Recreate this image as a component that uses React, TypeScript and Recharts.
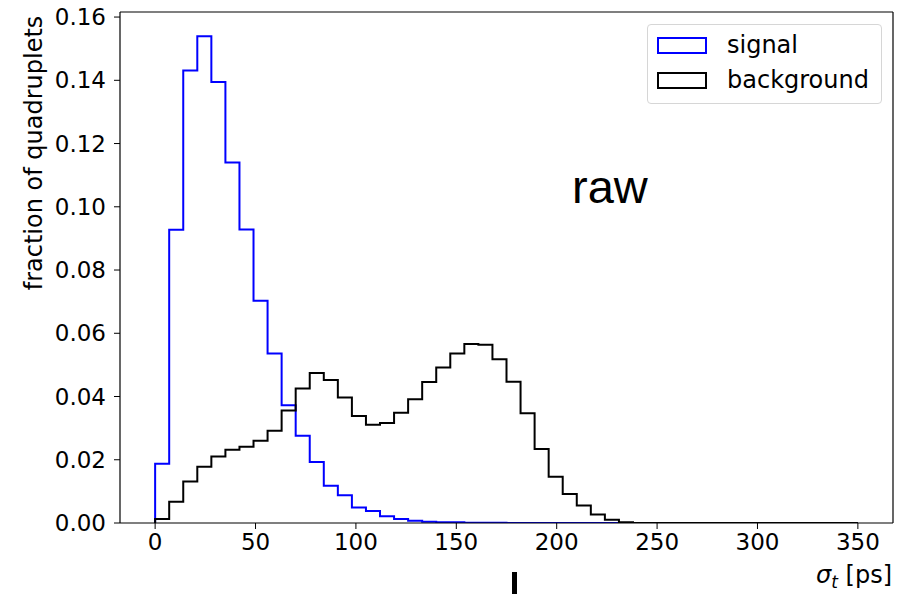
import React from 'react';
import {
  LineChart,
  Line,
  XAxis,
  YAxis,
  ReferenceLine,
  Legend,
} from 'recharts';

// histogram bins: 50 bins of 7 ps from 0 to 350
const BIN_WIDTH = 7;

const signalFractions = [
  0.0187, 0.0927, 0.1431, 0.1539, 0.1395, 0.114, 0.0928, 0.0703, 0.0536, 0.0372,
  0.0276, 0.0193, 0.0118, 0.0088, 0.0049, 0.0038, 0.0021, 0.0013, 0.0007, 0.0004,
  0.0002, 0.0002, 0.0001, 0.0001, 0.0001, 0, 0, 0, 0, 0,
  0, 0, 0, 0, 0, 0, 0, 0, 0, 0,
  0, 0, 0, 0, 0, 0, 0, 0, 0, 0,
];

const backgroundFractions = [
  0.0013, 0.0067, 0.0131, 0.0178, 0.021, 0.0232, 0.0241, 0.026, 0.0292, 0.0356,
  0.0425, 0.0474, 0.0452, 0.0397, 0.0338, 0.0311, 0.0316, 0.0349, 0.0391, 0.0446,
  0.0492, 0.0536, 0.0566, 0.0564, 0.0518, 0.0447, 0.0347, 0.0234, 0.0146, 0.0092,
  0.0055, 0.0027, 0.001, 0.0002, 0, 0, 0, 0, 0, 0,
  0, 0, 0, 0, 0, 0, 0, 0, 0, 0,
];

const xTicks = [0, 50, 100, 150, 200, 250, 300, 350];
const yTicks = [0, 0.02, 0.04, 0.06, 0.08, 0.1, 0.12, 0.14, 0.16];

const X_DOMAIN: [number, number] = [-17.5, 367.5];
const Y_DOMAIN: [number, number] = [0, 0.1616];

const FONT = '"DejaVu Sans", sans-serif';

// turn bin heights into step points (closed at both ends, like histtype='step')
function toSteps(values: number[]) {
  const last = values.length * BIN_WIDTH;
  return [
    { x: 0, y: 0 },
    ...values.map((v, i) => ({ x: i * BIN_WIDTH, y: v })),
    { x: last, y: values[values.length - 1] },
    { x: last, y: 0 },
  ];
}

const series = [
  { name: 'signal', color: '#0000ff', data: toSteps(signalFractions) },
  { name: 'background', color: '#000000', data: toSteps(backgroundFractions) },
];

const LegendBox = () => (
  <div
    style={{
      position: 'absolute',
      left: 647,
      top: 24,
      width: 235,
      height: 80,
      boxSizing: 'border-box',
      border: '1px solid #d6d6d6',
      borderRadius: 4,
      background: 'rgba(255,255,255,0.8)',
      fontFamily: FONT,
      fontSize: 24,
      color: '#000',
    }}
  >
    {series.map((s, i) => (
      <div
        key={s.name}
        style={{ position: 'absolute', left: 9, top: 12 + i * 35, display: 'flex', alignItems: 'center' }}
      >
        <span
          style={{
            display: 'inline-block',
            width: 50,
            height: 17,
            boxSizing: 'border-box',
            border: `2px solid ${s.color}`,
          }}
        />
        <span style={{ marginLeft: 20, lineHeight: '17px' }}>{s.name}</span>
      </div>
    ))}
  </div>
);

export default function App() {
  return (
    <div style={{ position: 'absolute', left: 0, top: 0, width: 897, height: 594, background: '#fff' }}>
      <LineChart width={897} height={594} margin={{ top: 12, right: 4, left: 0, bottom: 0 }}>
        <XAxis
          type="number"
          dataKey="x"
          domain={X_DOMAIN}
          ticks={xTicks}
          allowDataOverflow
          height={71}
          tickSize={6}
          tickMargin={5}
          axisLine={{ stroke: '#000', strokeWidth: 1.2 }}
          tickLine={{ stroke: '#000' }}
          tick={{ fill: '#000', fontSize: 23, fontFamily: FONT }}
        />
        <YAxis
          type="number"
          dataKey="y"
          domain={Y_DOMAIN}
          ticks={yTicks}
          allowDataOverflow
          width={120}
          tickSize={6}
          tickMargin={8}
          tickFormatter={(v: number) => v.toFixed(2)}
          axisLine={{ stroke: '#000', strokeWidth: 1.2 }}
          tickLine={{ stroke: '#000' }}
          tick={{ fill: '#000', fontSize: 23, fontFamily: FONT }}
        />
        {/* top and right spines */}
        <ReferenceLine y={Y_DOMAIN[1]} stroke="#000" strokeWidth={1.2} />
        <ReferenceLine x={X_DOMAIN[1]} stroke="#000" strokeWidth={1.2} />
        {series.map((s) => (
          <Line
            key={s.name}
            data={s.data}
            dataKey="y"
            name={s.name}
            type="stepAfter"
            stroke={s.color}
            strokeWidth={2}
            dot={false}
            activeDot={false}
            isAnimationActive={false}
          />
        ))}
        <Legend content={() => null} />
      </LineChart>
      <LegendBox />
      <svg
        width={897}
        height={594}
        style={{ position: 'absolute', left: 0, top: 0, pointerEvents: 'none' }}
      >
        <text
          transform="translate(42, 153) rotate(-90)"
          textAnchor="middle"
          fontFamily={FONT}
          fontSize={24}
          fill="#000"
        >
          fraction of quadruplets
        </text>
        <text x={892} y={583} textAnchor="end" fontFamily={FONT} fontSize={24} fill="#000">
          <tspan fontStyle="italic">σ</tspan>
          <tspan fontStyle="italic" fontSize={17} dy={5}>t</tspan>
          <tspan dy={-5}> [ps]</tspan>
        </text>
        <text x={572} y={203} fontFamily='"Liberation Sans", Arial, sans-serif' fontSize={47} fill="#000">
          raw
        </text>
        <rect x={512} y={572} width={5} height={22} fill="#000" />
      </svg>
    </div>
  );
}
